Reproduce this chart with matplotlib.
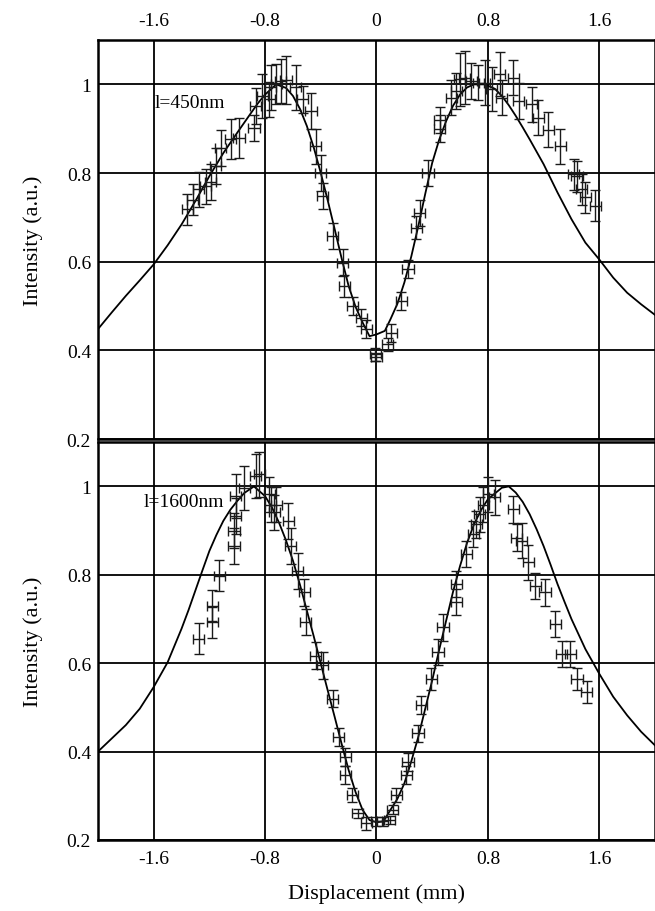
# ============================================================
#  Intensity vs displacement, two wavelengths (450 nm / 1600 nm)
# ============================================================

import numpy as np
import matplotlib
matplotlib.use("Agg")
import matplotlib.pyplot as plt

plt.rcParams["font.family"] = ["Liberation Serif", "DejaVu Serif"]

# ------------------------------------------------------------
# Data
# ------------------------------------------------------------

XTICKS = [-1.6, -0.8, 0.0, 0.8, 1.6]
XTICK_LABELS = ["-1.6", "-0.8", "0", "0.8", "1.6"]
YTICKS = [0.2, 0.4, 0.6, 0.8, 1.0]
YTICK_LABELS = ["0.2", "0.4", "0.6", "0.8", "1"]

# 450 nm - measured points
x_450 = [-1.36, -1.32, -1.276, -1.227, -1.19, -1.155, -1.12, -1.047, -0.987,
         -0.88, -0.867, -0.82, -0.77, -0.76, -0.72, -0.687, -0.65, -0.58,
         -0.53, -0.47, -0.435, -0.40, -0.387, -0.315, -0.243, -0.23, -0.17,
         -0.11, -0.074, -0.01, 0.0, 0.08, 0.106, 0.178, 0.226, 0.286, 0.31,
         0.37, 0.454, 0.454, 0.538, 0.574, 0.598, 0.634, 0.682, 0.73, 0.778,
         0.827, 0.886, 0.899, 0.982, 1.02, 1.115, 1.163, 1.235, 1.32, 1.415,
         1.44, 1.475, 1.50, 1.57]
y_450 = [0.718, 0.74, 0.763, 0.77, 0.78, 0.816, 0.857, 0.876, 0.88,
         0.902, 0.951, 0.974, 0.966, 0.993, 1.0, 1.008, 1.01, 0.993,
         0.966, 0.94, 0.86, 0.80, 0.748, 0.658, 0.598, 0.545, 0.50,
         0.474, 0.448, 0.391, 0.385, 0.414, 0.44, 0.511, 0.583, 0.677, 0.71,
         0.80, 0.90, 0.92, 0.97, 0.985, 1.011, 1.015, 1.008, 1.004, 1.004,
         0.989, 1.023, 0.97, 1.015, 0.962, 0.955, 0.925, 0.898, 0.86, 0.797,
         0.793, 0.763, 0.745, 0.726]
yerr_450 = [0.035, 0.035, 0.04, 0.04, 0.04, 0.04, 0.04, 0.045, 0.045,
            0.03, 0.04, 0.05, 0.04, 0.05, 0.045, 0.05, 0.055, 0.05,
            0.03, 0.04, 0.04, 0.04, 0.03, 0.03, 0.03, 0.025, 0.02,
            0.02, 0.02, 0.015, 0.01, 0.015, 0.02, 0.02, 0.02, 0.025, 0.03,
            0.03, 0.03, 0.03, 0.04, 0.04, 0.06, 0.06, 0.04, 0.04, 0.05,
            0.05, 0.05, 0.04, 0.04, 0.04, 0.04, 0.04, 0.04, 0.04, 0.035,
            0.035, 0.035, 0.035, 0.035]

# 450 nm - model curve
xc_450 = [-2.0, -1.9, -1.8, -1.7, -1.6, -1.5, -1.4, -1.3, -1.2, -1.1, -1.0,
          -0.9, -0.85, -0.8, -0.72, -0.65, -0.6, -0.55, -0.5, -0.45, -0.4,
          -0.35, -0.3, -0.25, -0.2, -0.15, -0.1, -0.05, 0.0, 0.06, 0.1, 0.15,
          0.2, 0.25, 0.3, 0.35, 0.4, 0.45, 0.5, 0.55, 0.6, 0.65, 0.7, 0.78,
          0.85, 0.9, 0.95, 1.0, 1.05, 1.1, 1.2, 1.3, 1.4, 1.5, 1.6, 1.7, 1.8,
          1.9, 2.0]
yc_450 = [0.448, 0.486, 0.523, 0.558, 0.594, 0.637, 0.684, 0.737, 0.793, 0.845,
          0.891, 0.936, 0.958, 0.977, 1.0, 0.992, 0.974, 0.945, 0.906, 0.857,
          0.80, 0.738, 0.673, 0.607, 0.545, 0.498, 0.463, 0.432, 0.436, 0.444,
          0.47, 0.505, 0.553, 0.612, 0.68, 0.753, 0.823, 0.875, 0.917, 0.952,
          0.977, 0.993, 1.0, 1.0, 0.99, 0.974, 0.953, 0.929, 0.903, 0.876,
          0.82, 0.756, 0.696, 0.643, 0.605, 0.564, 0.53, 0.504, 0.48]

# 1600 nm - measured points
x_1600 = [-1.276, -1.18, -1.18, -1.13, -1.023, -1.023, -1.01, -1.01, -0.95,
          -0.867, -0.843, -0.77, -0.76, -0.72, -0.735, -0.632, -0.615, -0.567,
          -0.519, -0.507, -0.435, -0.387, -0.315, -0.272, -0.223, -0.223,
          -0.175, -0.135, -0.074, -0.002, 0.046, 0.094, 0.117, 0.142, 0.214,
          0.226, 0.298, 0.322, 0.394, 0.442, 0.478, 0.574, 0.574, 0.646,
          0.694, 0.718, 0.742, 0.766, 0.802, 0.85, 0.982, 1.007, 1.043, 1.09,
          1.139, 1.21, 1.283, 1.331, 1.391, 1.44, 1.511]
y_1600 = [0.655, 0.693, 0.73, 0.798, 0.865, 0.90, 0.933, 0.978, 0.997,
          1.023, 1.027, 0.982, 0.959, 0.959, 0.941, 0.922, 0.865, 0.809,
          0.76, 0.693, 0.617, 0.595, 0.52, 0.433, 0.388, 0.347,
          0.302, 0.26, 0.238, 0.242, 0.242, 0.245, 0.268, 0.302, 0.347,
          0.377, 0.441, 0.505, 0.565, 0.625, 0.681, 0.738, 0.779, 0.847,
          0.892, 0.914, 0.937, 0.959, 0.982, 0.975, 0.948, 0.884, 0.877, 0.828,
          0.775, 0.76, 0.689, 0.621, 0.621, 0.565, 0.535]
yerr_1600 = [0.035, 0.035, 0.035, 0.035, 0.04, 0.04, 0.04, 0.05, 0.05,
             0.05, 0.05, 0.04, 0.04, 0.04, 0.04, 0.04, 0.04, 0.04,
             0.03, 0.03, 0.03, 0.03, 0.02, 0.02, 0.02, 0.02,
             0.015, 0.01, 0.015, 0.01, 0.01, 0.01, 0.01, 0.015, 0.02,
             0.02, 0.02, 0.02, 0.025, 0.03, 0.03, 0.03, 0.03, 0.03,
             0.03, 0.03, 0.04, 0.04, 0.04, 0.04, 0.03, 0.03, 0.04, 0.04,
             0.03, 0.03, 0.03, 0.03, 0.03, 0.025, 0.025]

# 1600 nm - model curve
xc_1600 = [-2.0, -1.9, -1.8, -1.7, -1.6, -1.5, -1.45, -1.4, -1.35, -1.3, -1.25,
           -1.2, -1.15, -1.1, -1.05, -1.0, -0.95, -0.88, -0.8, -0.75, -0.7,
           -0.65, -0.6, -0.55, -0.5, -0.45, -0.4, -0.35, -0.3, -0.25, -0.2,
           -0.15, -0.1, -0.05, 0.0, 0.05, 0.1, 0.15, 0.2, 0.25, 0.3, 0.35, 0.4,
           0.45, 0.5, 0.55, 0.6, 0.65, 0.7, 0.75, 0.8, 0.9, 0.95, 1.0, 1.05,
           1.1, 1.15, 1.2, 1.25, 1.3, 1.35, 1.4, 1.5, 1.6, 1.7, 1.8, 1.9, 2.0]
yc_1600 = [0.40, 0.43, 0.46, 0.497, 0.546, 0.602, 0.64, 0.678, 0.72, 0.765,
           0.81, 0.854, 0.89, 0.922, 0.947, 0.967, 0.985, 1.0, 0.978, 0.952,
           0.918, 0.878, 0.832, 0.778, 0.719, 0.66, 0.599, 0.538, 0.478, 0.417,
           0.358, 0.308, 0.268, 0.245, 0.24, 0.242, 0.268, 0.293, 0.328, 0.378,
           0.433, 0.497, 0.561, 0.63, 0.696, 0.762, 0.82, 0.872, 0.914, 0.946,
           0.971, 0.997, 1.0, 0.986, 0.965, 0.937, 0.903, 0.865, 0.823, 0.779,
           0.739, 0.70, 0.632, 0.576, 0.524, 0.482, 0.445, 0.414]

XERR = 0.04
PANELES = [
    (x_450, y_450, yerr_450, xc_450, yc_450, "l=450nm", (-1.59, 0.96)),
    (x_1600, y_1600, yerr_1600, xc_1600, yc_1600, "l=1600nm", (-1.67, 0.967)),
]

# ------------------------------------------------------------
# Figure
# ------------------------------------------------------------

fig = plt.figure(figsize=(6.55, 9.12), dpi=100, facecolor="white")
ax_top = fig.add_axes([0.1496, 0.5175, 0.8504, 0.4375])
ax_bot = fig.add_axes([0.1496, 0.0779, 0.8504, 0.4361])

for ax, (xs, ys, ye, xc, yc, etiqueta, pos) in zip([ax_top, ax_bot], PANELES):
    ax.set_xlim(-2.0, 2.0)
    ax.set_ylim(0.2, 1.1)
    ax.set_xticks(XTICKS)
    ax.set_xticklabels(XTICK_LABELS)
    ax.set_yticks(YTICKS)
    ax.set_yticklabels(YTICK_LABELS)
    ax.grid(True, color="black", linewidth=1.3)
    ax.set_axisbelow(True)
    for sp in ax.spines.values():
        sp.set_linewidth(1.8)
    ax.tick_params(length=0, labelsize=14, pad=5)

    ax.plot(xc, yc, color="black", linewidth=1.3, zorder=3)
    ax.errorbar(xs, ys, xerr=XERR, yerr=ye, fmt="none", ecolor="#1a1a1a",
                elinewidth=1.0, capsize=3.5, capthick=1.0, zorder=4)
    ax.text(pos[0], pos[1], etiqueta, ha="left", va="center", fontsize=14,
            zorder=5)
    ax.set_ylabel("Intensity (a.u.)", fontsize=16, labelpad=17)

ax_top.xaxis.tick_top()
ax_top.tick_params(axis="x", pad=8)
ax_bot.tick_params(axis="x", pad=7)
ax_bot.set_xlabel("Displacement (mm)", fontsize=16, labelpad=12)

fig.savefig("out.png", dpi=100, facecolor="white")
